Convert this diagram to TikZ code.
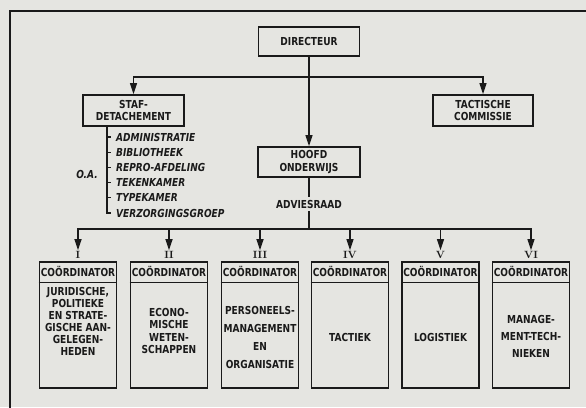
\documentclass[tikz,border=0pt]{standalone}
\usepackage{fontspec}
\usepackage{tikz}
\usetikzlibrary{arrows.meta,positioning,calc}
\newfontfamily\letterfont{DejaVu Sans}[FakeStretch=0.82]
\definecolor{paper}{HTML}{E5E5E1}
\definecolor{ink}{HTML}{1A1A1A}
\tikzset{
  blk/.style={draw=ink,line width=1.8pt,align=center,text=ink,inner sep=2pt,
              font=\letterfont\bfseries\fontsize{11}{12.5}\selectfont},
  coordbox/.style={blk,minimum width=77pt,minimum height=126pt},
  hdr/.style={font=\letterfont\bfseries\fontsize{11}{12}\selectfont,text=ink,
              minimum height=21pt,inner sep=0pt},
  body/.style={align=center,text=ink,inner sep=0pt,
              font=\letterfont\bfseries\fontsize{11}{#1}\selectfont},
  body/.default=12,
  item/.style={font=\letterfont\bfseries\itshape\fontsize{11}{12}\selectfont,
              text=ink,anchor=west,inner sep=0pt,inner xsep=5pt},
  num/.style={font=\bfseries\fontsize{10.5}{12}\selectfont,text=ink,inner sep=1pt},
  arr/.style={-{Triangle[length=11pt,width=7pt]},line width=1.3pt,ink},
  ln/.style={line width=1.3pt,ink},
}
\begin{document}
\begin{tikzpicture}[x=1pt,y=-1pt]
  \fill[paper] (0,0) rectangle (586,407);
  \useasboundingbox (0,0) rectangle (586,407);
  \draw[line width=2pt,ink] (10,410) -- (10,11) -- (590,11);

  % top of the organisation
  \node[blk,minimum width=101pt,minimum height=29pt] (dir) at (309,41.5) {DIRECTEUR};
  \node[blk,minimum width=101pt,minimum height=31pt] (staf) at (133.5,110.5) {STAF-\\DETACHEMENT};
  \node[blk,minimum width=100pt,minimum height=31pt] (tact) at (483,110.5) {TACTISCHE\\COMMISSIE};
  \node[blk,minimum width=102pt,minimum height=30pt] (hoofd) at (309,162) {HOOFD\\ONDERWIJS};
  \node[body,inner sep=3pt] (adv) at (309,204) {ADVIESRAAD};

  \coordinate (j1) at (309,77);
  \coordinate (j2) at (309,229);
  \draw[arr] (dir) -- (hoofd);
  \draw[arr] (j1) -| (staf);
  \draw[arr] (j1) -| (tact);
  \draw[ln] (hoofd) -- (adv);
  \draw[ln] (adv) -- (j2);

  % staff detachment
  \coordinate (sl) at (107,126);
  \foreach \t [count=\i] in {ADMINISTRATIE,BIBLIOTHEEK,REPRO-AFDELING,TEKENKAMER,TYPEKAMER,VERZORGINGSGROEP}
    \node[item] (st\i) at (111,{121.8+15.2*\i}) {\t};
  \node[item,anchor=center,inner xsep=0pt] (oa) at (87,174) {O.A.};
  \draw[ln] (staf.south -| sl) -- (st6.west -| sl) -- (st6.west);
  \foreach \i in {1,...,5}
    \draw[ln] (st\i.west -| sl) -- (st\i.west);

  % coordinators
  \foreach \k/\x/\r/\yc/\sp/\txt in {
      1/78/I/321/12/{JURIDISCHE,\\POLITIEKE\\EN STRATE-\\GISCHE AAN-\\GELEGEN-\\HEDEN},
      2/169/II/331/12.3/{ECONO-\\MISCHE\\WETEN-\\SCHAPPEN},
      3/260/III/337/18/{PERSONEELS-\\MANAGEMENT\\EN\\ORGANISATIE},
      4/350/IV/337/12/{TACTIEK},
      5/440.5/V/337/12/{LOGISTIEK},
      6/531/VI/336/17/{MANAGE-\\MENT-TECH-\\NIEKEN}} {
    \node[num] (n\k) at (\x,255) {\r};
    \node[coordbox] (c\k) at (\x,325) {};
    \node[hdr,below=0pt of c\k.north] (h\k) {COÖRDINATOR};
    \draw[ink,line width=1.4pt] (h\k.south -| c\k.west) -- (h\k.south -| c\k.east);
    \node[body=\sp] (b\k) at (\x,\yc) {\txt};
    \draw[arr] (j2) -| (n\k);
  }
\end{tikzpicture}
\end{document}
